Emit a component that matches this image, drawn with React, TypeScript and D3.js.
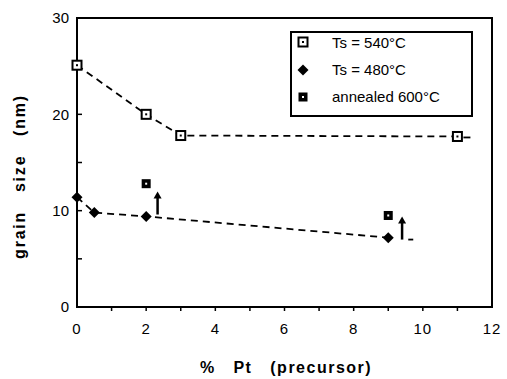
import React from "react";
import * as d3 from "d3";

// grain size (nm) vs % Pt (precursor)
const ts540X = [0, 2, 3, 11];
const ts540Y = [25.1, 20, 17.8, 17.7];
const ts480X = [0, 0.5, 2, 9];
const ts480Y = [11.4, 9.8, 9.4, 7.2];
const annealedX = [2, 9];
const annealedY = [12.8, 9.5];
const xTicks = [0, 2, 4, 6, 8, 10, 12];
const yTicks = [0, 10, 20, 30];
const legendLabels = ["Ts = 540°C", "Ts = 480°C", "annealed 600°C"];

const W = 507;
const H = 379;
const m = { left: 77, right: 15, top: 18, bottom: 72 };

const App = () => {
  const x = d3.scaleLinear().domain([0, 12]).range([m.left, W - m.right]);
  const y = d3.scaleLinear().domain([0, 30]).range([H - m.bottom, m.top]);

  const line = d3
    .line<[number, number]>()
    .x((d) => x(d[0]))
    .y((d) => y(d[1]));

  const s540 = ts540X.map((v, i) => [v, ts540Y[i]] as [number, number]);
  const s480 = ts480X.map((v, i) => [v, ts480Y[i]] as [number, number]);
  const font = "'Liberation Sans', Arial, Helvetica, sans-serif";

  const openSquare = (cx: number, cy: number, k: string) => (
    <g key={k}>
      <rect x={cx - 4.5} y={cy - 4.5} width={9} height={9} fill="#fff" stroke="#000" strokeWidth={2} />
      <rect x={cx - 1} y={cy - 1} width={2} height={2} fill="#000" />
    </g>
  );
  const diamond = (cx: number, cy: number, k: string) => (
    <path key={k} d={`M${cx},${cy - 5.5}L${cx + 5.5},${cy}L${cx},${cy + 5.5}L${cx - 5.5},${cy}Z`} fill="#000" />
  );
  const fillSquare = (cx: number, cy: number, k: string) => (
    <g key={k}>
      <rect x={cx - 4.5} y={cy - 4.5} width={9} height={9} fill="#000" />
      <rect x={cx - 1} y={cy - 1} width={2} height={2} fill="#fff" />
    </g>
  );

  const arrow = (px: number, v0: number, v1: number, k: string) => (
    <g key={k}>
      <line x1={px} x2={px} y1={y(v0)} y2={y(v1) + 6} stroke="#000" strokeWidth={2.5} />
      <path d={`M${px - 4},${y(v1) + 7}L${px},${y(v1)}L${px + 4},${y(v1) + 7}Z`} fill="#000" />
    </g>
  );

  const minorY = d3.range(5, 30, 5);
  const minorX = d3.range(1, 12, 1);

  return (
    <svg width={W} height={H} style={{ position: "absolute", left: 0, top: 0, background: "#fff" }}>
      <rect x={0} y={0} width={W} height={H} fill="#fff" />
      {/* frame */}
      <rect
        x={x(0)}
        y={y(30)}
        width={x(12) - x(0)}
        height={y(0) - y(30)}
        fill="none"
        stroke="#000"
        strokeWidth={2}
      />
      {/* ticks */}
      {minorY.map((t) => (
        <line key={"yt" + t} x1={x(0)} x2={x(0) + 5} y1={y(t)} y2={y(t)} stroke="#000" strokeWidth={1.5} />
      ))}
      {minorX.map((t) => (
        <line key={"xt" + t} x1={x(t)} x2={x(t)} y1={y(0)} y2={y(0) + 4} stroke="#000" strokeWidth={1.5} />
      ))}
      {yTicks.map((t) => (
        <text key={"yl" + t} x={x(0) - 8} y={y(t)} dy="0.35em" textAnchor="end" fontFamily={font} fontSize={15}>
          {t}
        </text>
      ))}
      {xTicks.map((t) => (
        <text key={"xl" + t} x={x(t)} y={y(0) + 27} textAnchor="middle" fontFamily={font} fontSize={15} letterSpacing={1}>
          {t}
        </text>
      ))}
      {/* axis titles */}
      <text
        transform={`translate(25,${(y(0) + y(30)) / 2 + 14}) rotate(-90)`}
        textAnchor="middle"
        fontFamily={font}
        fontSize={16}
        fontWeight="bold"
        letterSpacing={1.8}
        style={{ whiteSpace: "pre" }}
      >
        {"grain   size   (nm)"}
      </text>
      <text
        x={286}
        y={373}
        textAnchor="middle"
        fontFamily={font}
        fontSize={16}
        fontWeight="bold"
        letterSpacing={1.5}
        style={{ whiteSpace: "pre" }}
      >
        {"%   Pt   (precursor)"}
      </text>
      {/* dashed lines */}
      <path d={line(s540) ?? ""} fill="none" stroke="#000" strokeWidth={1.8} strokeDasharray="7,5" />
      <path d={line(s480) ?? ""} fill="none" stroke="#000" strokeWidth={1.8} strokeDasharray="7,5" />
      <line x1={x(11) + 6} x2={x(11) + 13} y1={y(17.6)} y2={y(17.6)} stroke="#000" strokeWidth={1.8} />
      <line x1={x(9) + 20} x2={x(9) + 25} y1={y(7.0)} y2={y(7.0)} stroke="#000" strokeWidth={1.8} />
      {/* points */}
      {s540.map((d, i) => openSquare(x(d[0]), y(d[1]), "a" + i))}
      {s480.map((d, i) => diamond(x(d[0]), y(d[1]), "b" + i))}
      {annealedX.map((v, i) => fillSquare(x(v), y(annealedY[i]), "c" + i))}
      {arrow(x(2.33), 9.6, 12.0, "ar1")}
      {arrow(x(9.4), 7.0, 9.4, "ar2")}
      {/* legend */}
      <rect x={291} y={32} width={181} height={84} fill="#fff" stroke="#000" strokeWidth={2} />
      {legendLabels.map((lab, i) => {
        const ly = 43 + i * 27;
        const sym = i === 0 ? openSquare(303, ly - 1, "l" + i) : i === 1 ? diamond(303, ly, "l" + i) : fillSquare(303, ly, "l" + i);
        return (
          <g key={lab}>
            {sym}
            <text x={332} y={ly} dy="0.35em" fontFamily={font} fontSize={15}>
              {lab}
            </text>
          </g>
        );
      })}
    </svg>
  );
};

export default App;
